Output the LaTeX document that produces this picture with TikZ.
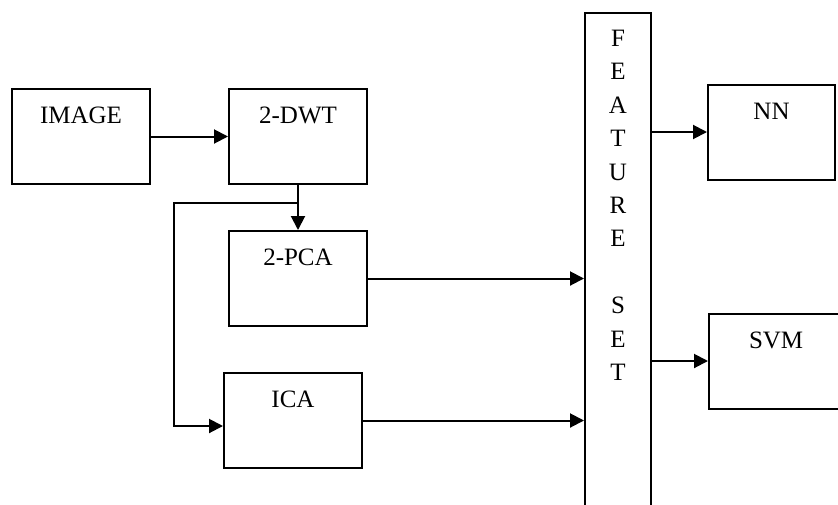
\documentclass[tikz,border=0pt]{standalone}
\usepackage{fontspec}
\setmainfont{Liberation Serif}
\usetikzlibrary{positioning,arrows.meta,calc}
\tikzset{
  blk/.style={rectangle,draw=black,line width=2pt,minimum width=138pt,
    inner ysep=17.5pt,text height=17pt,text depth=43pt,
    font=\fontsize{25}{28}\selectfont},
  featbox/.style={rectangle,draw=black,line width=2pt,minimum width=66pt,
    minimum height=520pt,inner sep=0pt},
  flow/.style={-{Triangle[length=14pt,width=14pt]},line width=2pt},
}
\begin{document}
\begin{tikzpicture}[x=1pt,y=-1pt]
  \useasboundingbox (0,0) rectangle (838,504);
  % processing blocks
  \node[blk] (img) at (81,136.5) {IMAGE};
  \node[blk] (dwt) at (298,136.5) {2-DWT};
  \node[blk] (pca) at (298,278.5) {2-PCA};
  \node[blk] (ica) at (293,420.5) {ICA};
  % feature set column
  \node[featbox,anchor=north] (feat) at (618,12) {};
  \node[anchor=north,align=center,inner sep=0pt,
    font=\fontsize{25}{33.4}\selectfont] (feattxt) at (618,30)
    {F\\E\\A\\T\\U\\R\\E\\[33.4pt]S\\E\\T};
  % classifiers
  \node[blk,minimum width=127pt] (nn) at (771.5,132) {NN};
  \node[blk,minimum width=160pt,anchor=west,text width=120pt,align=left] (svm) at (708,361) {\hspace*{20pt}SVM};
  % connectors
  \coordinate (split) at ($(dwt.south)!0.4!(pca.north)$);
  \coordinate (turn) at (174,426);
  \draw[flow] (img.east) -- (dwt.west);
  \draw[flow] (dwt.south) -- (pca.north);
  \draw[flow] (split) -- (split -| turn) -- (turn) -- (turn -| ica.west);
  \draw[flow] (pca.east) -- (pca.east -| feat.west);
  \draw[flow] (ica.east) -- (ica.east -| feat.west);
  \draw[flow] (feat.east |- nn.west) -- (nn.west);
  \draw[flow] (feat.east |- svm.west) -- (svm.west);
\end{tikzpicture}
\end{document}
